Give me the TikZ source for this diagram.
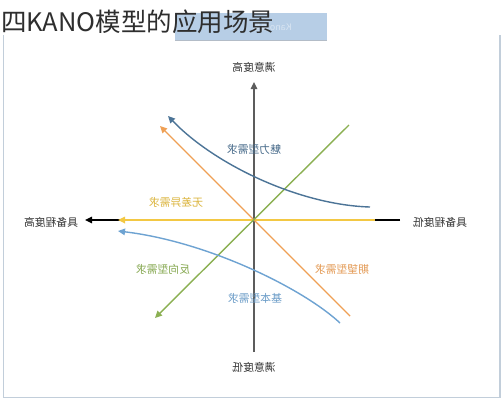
\documentclass[tikz,border=0pt]{standalone}
\usepackage{fontspec}
\usepackage{graphicx}
\setmainfont{Noto Sans CJK SC}
\usetikzlibrary{arrows.meta}
\definecolor{axisc}{HTML}{333333}
\definecolor{darkblue}{HTML}{4C7497}
\definecolor{lightblue}{HTML}{6EA3D2}
\definecolor{orangec}{HTML}{EFA055}
\definecolor{greenc}{HTML}{8BB052}
\definecolor{yellowc}{HTML}{F3C843}
\definecolor{rectc}{HTML}{B7CEE6}
\definecolor{framec}{HTML}{C2CEDA}
\definecolor{titlec}{HTML}{2E2E2E}
\begin{document}
\begin{tikzpicture}[x=1pt,y=-1pt,
  tip/.style={-{Triangle[length=7pt,width=6.5pt]}},
  curve/.style={line width=1.4pt,tip},
  lbl/.style={inner sep=0pt,font=\fontsize{10.8}{12}\selectfont},
  axl/.style={lbl,text=axisc}]
\useasboundingbox (0,0) rectangle (503,400);
\fill[white] (0,0) rectangle (503,400);
% frame
\draw[framec,line width=1.3pt] (3.5,35) -- (3.5,397.5) -- (500,397.5) -- (500,35);
% title box
\fill[rectc] (175,13) rectangle (327,40);
\draw[rectc!70!black!60,line width=0.8pt] (175,40) -- (327,40);
\node[inner sep=0pt,anchor=east,text=white,opacity=0.45,font=\fontsize{9}{10}\selectfont] (faint) at (292,27) {\reflectbox{Kano模型}};
\node[inner sep=0pt,anchor=base west,text=titlec,font=\fontsize{25.5}{27}\selectfont] (title) at (1,31) {四KANO模型的应用场景};
% axis labels
\node[axl] (top) at (254,67) {\reflectbox{满意度高}};
\node[axl] (bot) at (254,367) {\reflectbox{满意度低}};
\node[axl] (left) at (51,222) {\reflectbox{具备程度高}};
\node[axl] (right) at (440,222) {\reflectbox{具备程度低}};
% axes
\coordinate (vb) at (254,352);
\coordinate (vt) at (254,82);
\coordinate (hr) at (400,220);
\coordinate (hl) at (85,220);
\draw[axisc!80,line width=1.3pt,tip] (vb) -- (vt);
\draw[black,line width=1.3pt,tip] (hr) -- (hl);
% yellow
\coordinate (yr) at (375,220);
\coordinate (yl) at (118,220);
\draw[yellowc,line width=1.6pt,tip] (yr) -- (yl);
% orange
\coordinate (or) at (350,316);
\coordinate (ol) at (160,126);
\draw[orangec,line width=1.4pt,tip] (or) -- (ol);
% green
\coordinate (gr) at (349,125);
\coordinate (gl) at (155,318);
\draw[greenc,line width=1.4pt,tip] (gr) -- (gl);
% dark blue curve
\coordinate (dbr) at (370,207);
\coordinate (dbl) at (168,116);
\draw[darkblue,curve] (dbr) .. controls (300,205) and (215,165) .. (dbl);
% light blue curve
\coordinate (lbr) at (340,323);
\coordinate (lbl) at (118,231);
\draw[lightblue,curve] (lbr) .. controls (305,290) and (210,242) .. (lbl);
% curve labels
\node[lbl,text=darkblue!90!black] (mei) at (254,149) {\reflectbox{魅力型需求}};
\node[lbl,text=yellowc!90!black] (wu) at (176,202) {\reflectbox{无差异需求}};
\node[lbl,text=orangec!95!black] (qi) at (342,269) {\reflectbox{期望型需求}};
\node[lbl,text=greenc!95!black] (fan) at (163,269) {\reflectbox{反向型需求}};
\node[lbl,text=lightblue!95!black] (ji) at (255,298) {\reflectbox{基本型需求}};
\end{tikzpicture}
\end{document}
